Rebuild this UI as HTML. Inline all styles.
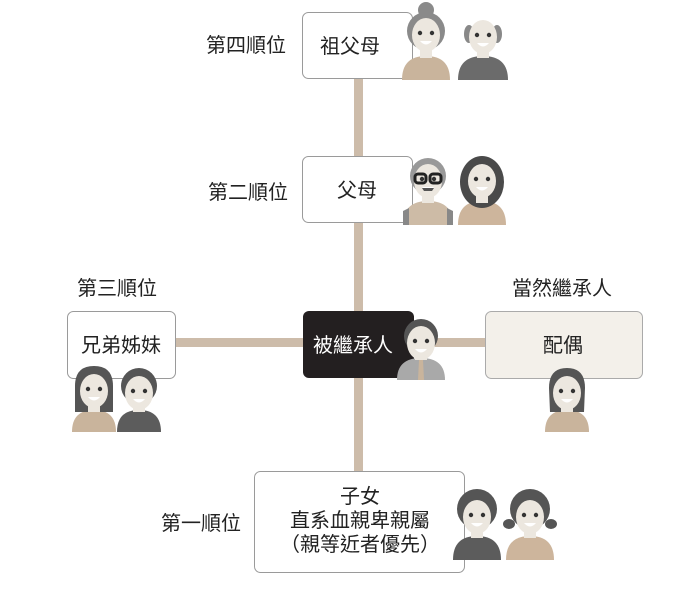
<!DOCTYPE html>
<html><head><meta charset="utf-8"><style>
html,body{margin:0;padding:0;background:#fff;}
svg{display:block;font-family:"Liberation Sans","Noto Sans CJK TC",sans-serif;}
</style></head><body>
<svg width="700" height="593" viewBox="0 0 700 593" xmlns="http://www.w3.org/2000/svg">
<defs>
<g id="face">
  <ellipse cx="0" cy="25" rx="14" ry="17" fill="#ece7df"/>
  <circle cx="-6" cy="23" r="2.2" fill="#333"/>
  <circle cx="6" cy="23" r="2.2" fill="#333"/>
  <path d="M-6,31 Q0,38 6,31 Z" fill="#fff"/>
</g>
</defs>
<!-- connectors -->
<rect x="354" y="76" width="9" height="398" fill="#cdbcaa"/>
<rect x="172" y="338" width="316" height="9" fill="#cdbcaa"/>

<!-- boxes -->
<rect x="302.5" y="12.5" width="110" height="66" rx="6" fill="#fff" stroke="#9a9a9a"/>
<rect x="302.5" y="156.5" width="110" height="66" rx="6" fill="#fff" stroke="#9a9a9a"/>
<rect x="67.5" y="311.5" width="108" height="67" rx="6" fill="#fff" stroke="#9a9a9a"/>
<rect x="303" y="311" width="111" height="67" rx="6" fill="#231f20"/>
<rect x="485.5" y="311.5" width="157" height="67" rx="6" fill="#f3f0ea" stroke="#aaa"/>
<rect x="254.5" y="471.5" width="210" height="101" rx="6" fill="#fff" stroke="#9a9a9a"/>

<!-- box text -->
<g font-size="20" fill="#222" text-anchor="middle">
<text x="350" y="53">祖父母</text>
<text x="357" y="197">父母</text>
<text x="121" y="352">兄弟姊妹</text>
<text x="353" y="352" fill="#fff">被繼承人</text>
<text x="563" y="352">配偶</text>
<text x="360" y="503">子女</text>
<text x="360" y="527">直系血親卑親屬</text>
<text x="360" y="551">（親等近者優先）</text>
<!-- outer labels -->
<text x="246" y="52">第四順位</text>
<text x="248" y="199">第二順位</text>
<text x="117" y="295">第三順位</text>
<text x="562" y="295">當然繼承人</text>
<text x="201" y="530">第一順位</text>
</g>

<!-- people -->
<!-- grandma -->
<g transform="translate(426,10)">
  <path d="M-24,70 Q-24,46 0,46 Q24,46 24,70 Z" fill="#c9b49c"/>
  <rect x="-6" y="34" width="12" height="14" fill="#ece7df"/>
  <circle cx="0" cy="0" r="8" fill="#8a8a8a"/>
  <circle cx="0" cy="21" r="19" fill="#8a8a8a"/>
  <use href="#face"/>
</g>
<!-- grandpa -->
<g transform="translate(483,12)">
  <path d="M-25,68 Q-25,44 0,44 Q25,44 25,68 Z" fill="#6b6b6b"/>
  <rect x="-6" y="32" width="12" height="14" fill="#ece7df"/>
  <ellipse cx="-14" cy="22" rx="5" ry="9" fill="#888"/>
  <ellipse cx="14" cy="22" rx="5" ry="9" fill="#888"/>
  <use href="#face"/>
</g>
<!-- dad -->
<g transform="translate(428,156)">
  <path d="M-25,69 Q-25,45 0,45 Q25,45 25,69 Z" fill="#cdbba6"/>
  <path d="M-25,69 L-25,55 L-19,52 L-19,69 Z M25,69 L25,55 L19,52 L19,69 Z" fill="#888"/>
  <rect x="-6" y="33" width="12" height="14" fill="#ece7df"/>
  <circle cx="0" cy="20" r="18" fill="#999"/>
  <use href="#face"/>
  <rect x="-13" y="18" width="11" height="9" rx="3" fill="none" stroke="#222" stroke-width="3"/>
  <rect x="2" y="18" width="11" height="9" rx="3" fill="none" stroke="#222" stroke-width="3"/>
  <path d="M-6,32 L6,32 L4,35 L-4,35 Z" fill="#555"/>
</g>
<!-- mom -->
<g transform="translate(482,156)">
  <path d="M-24,69 Q-24,45 0,45 Q24,45 24,69 Z" fill="#cdb59c"/>
  <ellipse cx="0" cy="26" rx="22" ry="26" fill="#4a4a4a"/>
  <rect x="-6" y="33" width="12" height="14" fill="#ece7df"/>
  <use href="#face"/>
</g>
<!-- deceased -->
<g transform="translate(421,318)">
  <path d="M-24,62 Q-24,40 0,40 Q24,40 24,62 Z" fill="#a9a9a9"/>
  <path d="M-2,42 L2,42 L3,62 L-3,62 Z" fill="#c9b49c"/>
  <rect x="-6" y="30" width="12" height="12" fill="#ece7df"/>
  <circle cx="0" cy="18" r="17" fill="#555"/>
  <use href="#face"/>
</g>
<!-- sister -->
<g transform="translate(94,366)">
  <path d="M-22,66 Q-22,44 0,44 Q22,44 22,66 Z" fill="#c9b49c"/>
  <path d="M-19,20 Q-19,0 0,0 Q19,0 19,20 L19,46 L-19,46 Z" fill="#555"/>
  <rect x="-6" y="32" width="12" height="14" fill="#ece7df"/>
  <use href="#face"/>
</g>
<!-- brother -->
<g transform="translate(139,368)">
  <path d="M-22,64 Q-22,42 0,42 Q22,42 22,64 Z" fill="#5c5c5c"/>
  <rect x="-6" y="30" width="12" height="14" fill="#ece7df"/>
  <circle cx="0" cy="18" r="18" fill="#555"/>
  <use href="#face"/>
</g>
<!-- spouse -->
<g transform="translate(567,368)">
  <path d="M-22,64 Q-22,42 0,42 Q22,42 22,64 Z" fill="#c9b49c"/>
  <path d="M-18,20 Q-18,0 0,0 Q18,0 18,20 L17,44 L-17,44 Z" fill="#555"/>
  <rect x="-6" y="30" width="12" height="14" fill="#ece7df"/>
  <use href="#face"/>
</g>
<!-- boy -->
<g transform="translate(477,488)">
  <path d="M-24,72 Q-24,48 0,48 Q24,48 24,72 Z" fill="#5c5c5c"/>
  <rect x="-6" y="36" width="12" height="14" fill="#ece7df"/>
  <circle cx="0" cy="21" r="20" fill="#555"/>
  <use href="#face" transform="translate(0,4)"/>
</g>
<!-- girl -->
<g transform="translate(530,488)">
  <path d="M-24,72 Q-24,48 0,48 Q24,48 24,72 Z" fill="#cdb59c"/>
  <ellipse cx="-21" cy="36" rx="6" ry="5" fill="#555"/>
  <ellipse cx="21" cy="36" rx="6" ry="5" fill="#555"/>
  <rect x="-6" y="36" width="12" height="14" fill="#ece7df"/>
  <circle cx="0" cy="21" r="20" fill="#555"/>
  <use href="#face" transform="translate(0,4)"/>
</g>
</svg>
</body></html>
